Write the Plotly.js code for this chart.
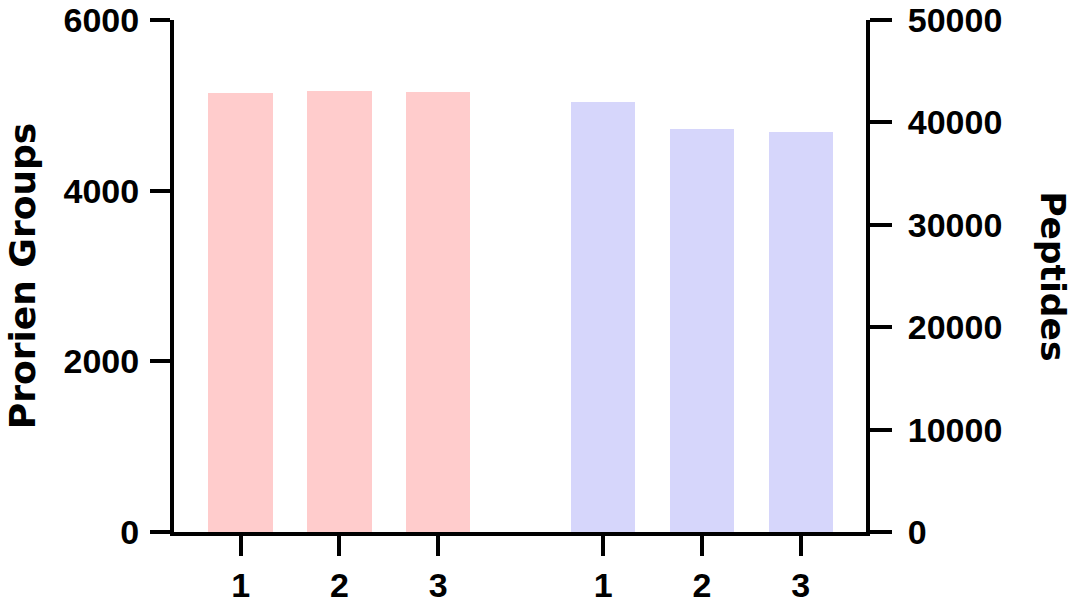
<!DOCTYPE html>
<html>
<head>
<meta charset="utf-8">
<script src="https://cdn.plot.ly/plotly-3.0.1.min.js"></script>
<style>html,body{margin:0;padding:0;background:#fff;}#chart{width:1076px;height:607px;}</style>
</head>
<body>
<div id="chart"></div>
<script>
// Data
const replicateLabels = ["1", "2", "3"];
const proteinGroups = [5148, 5168, 5156];   // left axis
const peptides = [41990, 39350, 39100];     // right axis
const leftTicks = [0, 2000, 4000, 6000];
const rightTicks = [0, 10000, 20000, 30000, 40000, 50000];

// Layout helpers (positions)
const groupGap = 3.67;
const xPink = replicateLabels.map((_, i) => i);
const xBlue = replicateLabels.map((_, i) => i + groupGap);

const TICKFONT = {family: "Liberation Sans, Arial, sans-serif", size: 34, color: "#000", weight: 700};
const TITLEFONT = {family: "DejaVu Sans, Arial, sans-serif", size: 36, color: "#000", weight: 700};

const traces = [
  {type: "bar", x: xPink, y: proteinGroups, width: 0.65, marker: {color: "#FFCCCC"},
   xaxis: "x", yaxis: "y", hoverinfo: "y", showlegend: false},
  {type: "bar", x: xBlue, y: peptides, width: 0.65, marker: {color: "#D6D6FB"},
   xaxis: "x", yaxis: "y2", hoverinfo: "y", showlegend: false}
];

const axisCommon = {
  showgrid: false, zeroline: false, showline: true, linecolor: "#000", linewidth: 4,
  ticks: "outside", ticklen: 20, tickwidth: 4, tickcolor: "#000", tickfont: TICKFONT
};

const layout = {
  width: 1076, height: 607,
  margin: {l: 174, r: 210, t: 20, b: 75, pad: 0},
  paper_bgcolor: "#fff", plot_bgcolor: "#fff",
  bargap: 0,
  xaxis: Object.assign({}, axisCommon, {
    range: [-0.674, 6.33], tickmode: "array",
    tickvals: xPink.concat(xBlue), ticktext: replicateLabels.concat(replicateLabels),
    fixedrange: true
  }),
  yaxis: Object.assign({}, axisCommon, {
    range: [0, 6000], tickmode: "array", tickvals: leftTicks, ticktext: leftTicks.map(String),
    ticklabelstandoff: 4,
    title: {text: "Prorien Groups", font: TITLEFONT, standoff: 18}
  }),
  yaxis2: Object.assign({}, axisCommon, {
    overlaying: "y", side: "right", range: [0, 50000], tickmode: "array",
    tickvals: rightTicks, ticktext: rightTicks.map(String),
    ticklen: 22, ticklabelstandoff: 9
  }),
  annotations: [{
    text: "Peptides", xref: "paper", yref: "paper", x: 1.27, y: 0.5,
    xanchor: "center", yanchor: "middle", showarrow: false, textangle: 90,
    font: Object.assign({}, TITLEFONT, {size: 34.5})
  }]
};

Plotly.newPlot("chart", traces, layout, {staticPlot: true, displayModeBar: false});
</script>
</body>
</html>
